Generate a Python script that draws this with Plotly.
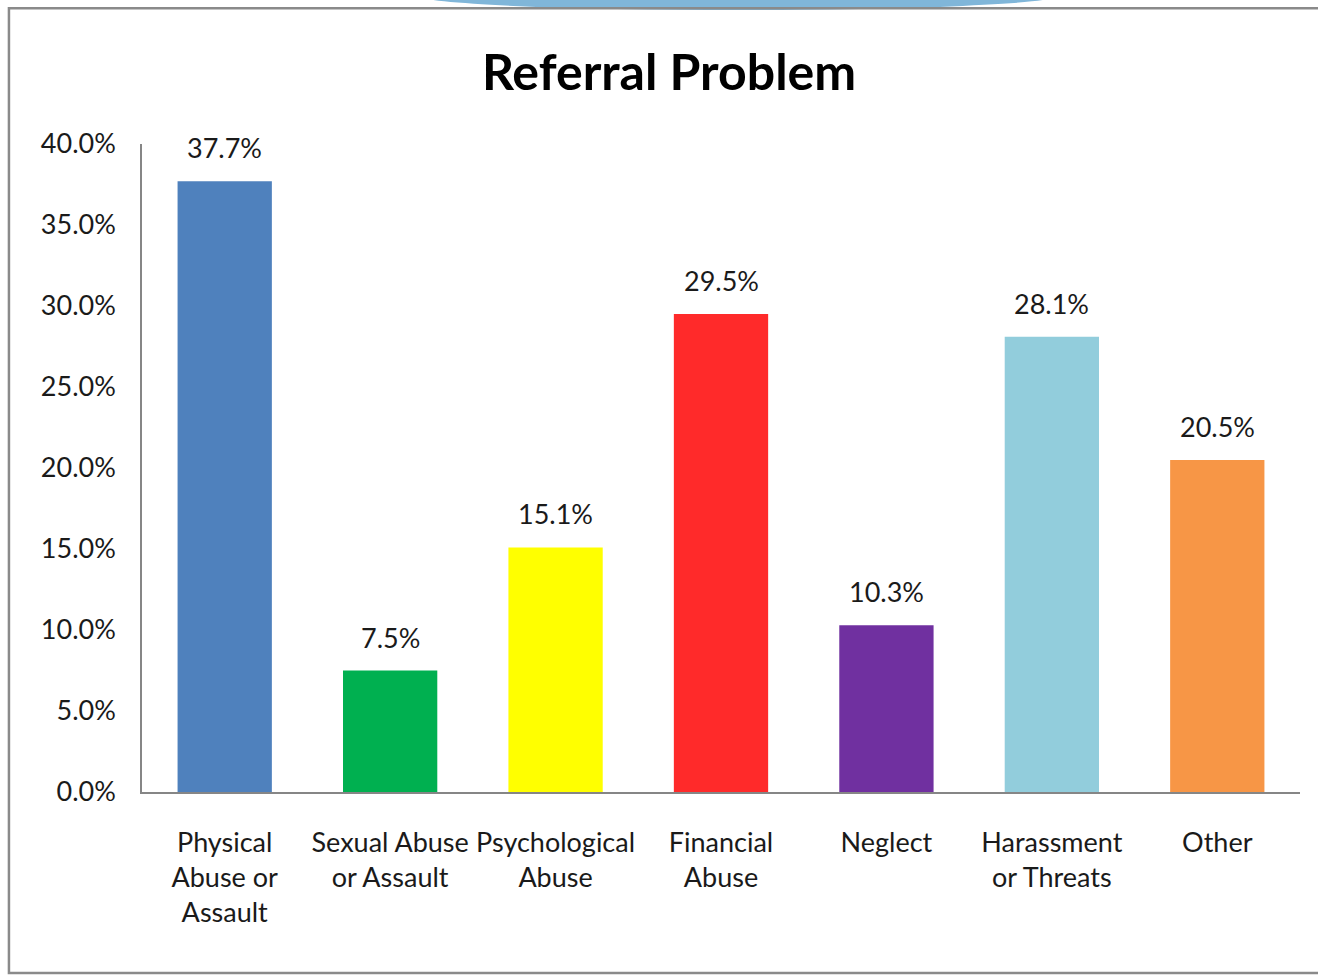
import plotly.graph_objects as go

categories = ["Physical<br>Abuse or<br>Assault", "Sexual Abuse<br>or Assault", "Psychological<br>Abuse",
              "Financial<br>Abuse", "Neglect", "Harassment<br>or Threats", "Other"]
values = [0.377, 0.075, 0.151, 0.295, 0.103, 0.281, 0.205]
colors = ["#4F81BD", "#00B050", "#FFFF00", "#FF2A2A", "#7030A0", "#92CDDC", "#F79646"]
y_ticks = [0, 0.05, 0.10, 0.15, 0.20, 0.25, 0.30, 0.35, 0.40]

FONT = "Lato"

fig = go.Figure()
fig.add_trace(go.Bar(x=categories, y=values, marker=dict(color=colors, line=dict(width=0)),
                     width=0.57, showlegend=False, hoverinfo="skip"))

for c, v in zip(categories, values):
    fig.add_annotation(x=c, y=v, text=f"{v*100:.1f}%", showarrow=False, yanchor="bottom",
                       yshift=15, font=dict(family=FONT, size=27, color="#1a1a1a"))

# decorative blue arc at the top
fig.add_shape(type="circle", xref="paper", yref="paper", x0=0.2401, x1=0.7893, y0=1.2068, y1=1.25,
              fillcolor="#80B6D9", line=dict(width=0), layer="below")
# outer frame
fig.add_shape(type="rect", xref="paper", yref="paper", x0=-0.1149, x1=1.05, y0=-0.2793, y1=1.2093,
              line=dict(color="#8a8a8a", width=2.5), layer="below")

fig.update_layout(
    width=1318, height=975,
    margin=dict(l=142, r=18, t=144, b=183),
    paper_bgcolor="white", plot_bgcolor="white",
    title=dict(text="<b>Referral Problem</b>", x=0.5076, xanchor="center", y=0.926, yanchor="middle",
               font=dict(family=FONT, size=50, color="black")),
    xaxis=dict(showline=True, linecolor="#868686", linewidth=1.5, ticks="", showgrid=False,
               tickfont=dict(family=FONT, size=27, color="#1a1a1a"), ticklabelstandoff=26),
    yaxis=dict(range=[0, 0.40], tickvals=y_ticks, tickformat=".1%", showline=True, linecolor="#868686",
               linewidth=1.5, ticks="", showgrid=False, zeroline=False,
               tickfont=dict(family=FONT, size=27, color="#1a1a1a"), ticklabelstandoff=19),
    bargap=0.43,
)

fig.write_html("out.html", config={"displayModeBar": False},
               post_script="document.body.style.margin='0px';document.body.style.overflow='hidden';")
